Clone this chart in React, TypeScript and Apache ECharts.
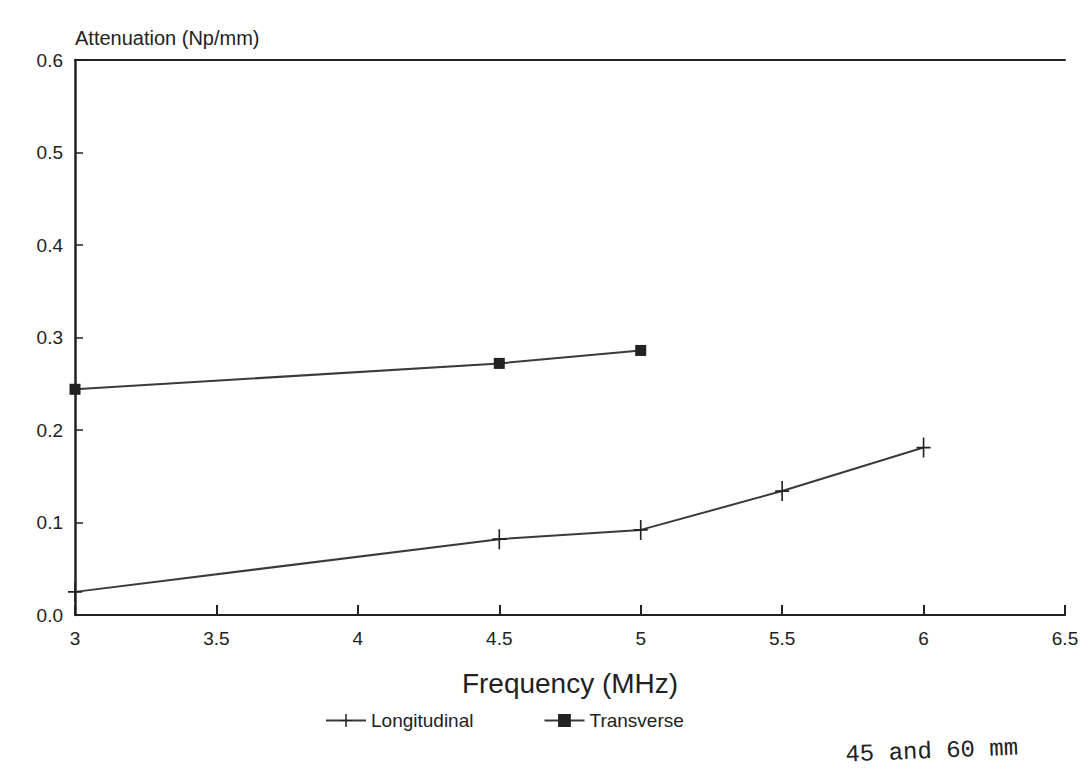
import React, { useEffect, useRef } from "react";
import * as echarts from "echarts";

// Frequency (MHz) at which each wave type was measured
const longitudinalFreq = [3, 4.5, 5, 5.5, 6];
const longitudinalAtten = [0.025, 0.082, 0.092, 0.134, 0.181];

const transverseFreq = [3, 4.5, 5];
const transverseAtten = [0.244, 0.272, 0.286];

const xTicks = [3, 3.5, 4, 4.5, 5, 5.5, 6, 6.5];
const yTicks = [0, 0.1, 0.2, 0.3, 0.4, 0.5, 0.6];

const FONT = "'Liberation Sans', Arial, sans-serif";
const INK = "#222";
const LINE = "#3a3a3a";

// a plus sign drawn as a thin filled cross
const PLUS = "path://M-0.7,-8H0.7V-0.7H6V0.7H0.7V8H-0.7V0.7H-6V-0.7H-0.7Z";

export default function App() {
  const ref = useRef<HTMLDivElement | null>(null);

  useEffect(() => {
    document.body.style.margin = "0";
    if (!ref.current) return;
    const chart = echarts.init(ref.current, null, { renderer: "svg" });

    const pairs = (xs: number[], ys: number[]) => xs.map((x, i) => [x, ys[i]]);

    chart.setOption({
      animation: false,
      backgroundColor: "#ffffff",
      grid: { left: 75, right: 23, top: 60, bottom: 160, containLabel: false },
      xAxis: [
        {
          type: "value",
          min: xTicks[0],
          max: xTicks[xTicks.length - 1],
          interval: 0.5,
          name: "Frequency (MHz)",
          nameLocation: "middle",
          nameGap: 54,
          nameTextStyle: { fontFamily: FONT, fontSize: 28, color: INK },
          axisLine: { show: true, lineStyle: { color: INK, width: 2 } },
          axisTick: { show: true, inside: true, length: 10, lineStyle: { color: INK, width: 2 } },
          axisLabel: {
            fontFamily: FONT,
            fontSize: 19,
            color: INK,
            margin: 14,
            formatter: (v: number) => String(v),
          },
          splitLine: { show: false },
        },
        {
          type: "value",
          position: "top",
          min: xTicks[0],
          max: xTicks[xTicks.length - 1],
          axisLine: { show: true, lineStyle: { color: INK, width: 2 } },
          axisTick: { show: false },
          axisLabel: { show: false },
          splitLine: { show: false },
        },
      ],
      yAxis: {
        type: "value",
        min: yTicks[0],
        max: yTicks[yTicks.length - 1],
        interval: 0.1,
        name: "Attenuation (Np/mm)",
        nameLocation: "end",
        nameGap: 12,
        nameTextStyle: {
          fontFamily: FONT,
          fontSize: 20,
          color: INK,
          align: "left",
        },
        axisLine: { show: true, lineStyle: { color: INK, width: 2.5 } },
        axisTick: { show: true, inside: true, length: 8, lineStyle: { color: INK, width: 1.5 } },
        axisLabel: {
          fontFamily: FONT,
          fontSize: 19,
          color: INK,
          margin: 12,
          formatter: (v: number) => v.toFixed(1),
        },
        splitLine: { show: false },
      },
      legend: {
        left: 320,
        top: 706,
        itemGap: 70,
        itemWidth: 40,
        itemHeight: 16,
        textStyle: { fontFamily: FONT, fontSize: 19, color: INK },
        data: ["Longitudinal", "Transverse"],
      },
      series: [
        {
          name: "Longitudinal",
          type: "line",
          smooth: false,
          data: pairs(longitudinalFreq, longitudinalAtten),
          symbol: PLUS,
          symbolSize: [14, 20],
          showSymbol: true,
          lineStyle: { color: LINE, width: 2 },
          itemStyle: { color: INK },
        },
        {
          name: "Transverse",
          type: "line",
          data: pairs(transverseFreq, transverseAtten),
          symbol: "rect",
          symbolSize: 11,
          lineStyle: { color: LINE, width: 2 },
          itemStyle: { color: INK },
        },
      ],
      graphic: [
        {
          type: "text",
          left: 845,
          top: 736,
          rotation: 0.04,
          style: {
            text: "45 and 60 mm",
            fontFamily: "'Liberation Mono', monospace",
            fontSize: 24,
            fill: INK,
          },
        },
      ],
    });

    return () => chart.dispose();
  }, []);

  return <div ref={ref} style={{ width: 1088, height: 775 }} />;
}
